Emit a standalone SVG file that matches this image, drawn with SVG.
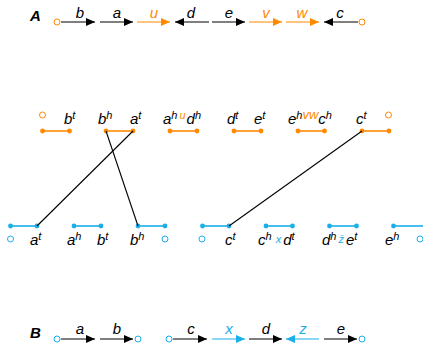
<svg xmlns="http://www.w3.org/2000/svg" width="423" height="344" viewBox="0 0 423 344">
<style>
text{font-family:"Liberation Sans",Arial,sans-serif;font-style:italic;font-size:15px;fill:#000}
.big{font-weight:bold;font-size:15px}
.sup{font-size:11px}
.o{fill:#ff8a00}
.bl{fill:#1aaeea}
.sm{font-size:11px}
.md{font-size:13px}
.ab{stroke:#000;stroke-width:1.2;fill:none}
.ao{stroke:#ff8a00;stroke-width:1.2;fill:none}
.ablue{stroke:#1aaeea;stroke-width:1.2;fill:none}
.so{stroke:#ff8a00;stroke-width:1.6}
.sb{stroke:#1aaeea;stroke-width:1.6}
.co{fill:none;stroke:#ff8a00;stroke-width:1}
.cb{fill:none;stroke:#1aaeea;stroke-width:1}
.do{fill:#ff8a00}
.db{fill:#1aaeea}
.conn{stroke:#000;stroke-width:1.1;fill:none}
</style>
<defs>
<marker id="mk" markerUnits="userSpaceOnUse" markerWidth="10" markerHeight="8" refX="9" refY="4" orient="auto"><path d="M0,0 L9,4 L0,8 Z" fill="#000"/></marker>
<marker id="mo" markerUnits="userSpaceOnUse" markerWidth="10" markerHeight="8" refX="9" refY="4" orient="auto"><path d="M0,0 L9,4 L0,8 Z" fill="#ff8a00"/></marker>
<marker id="mb" markerUnits="userSpaceOnUse" markerWidth="10" markerHeight="8" refX="9" refY="4" orient="auto"><path d="M0,0 L9,4 L0,8 Z" fill="#1aaeea"/></marker>
</defs>

<g id="rowA">
<text class="big" x="30" y="21">A</text>
<circle class="co" cx="57" cy="22" r="3"/>
<line class="ab" x1="61" y1="22" x2="95" y2="22" marker-end="url(#mk)"/>
<line class="ab" x1="100" y1="22" x2="133" y2="22" marker-end="url(#mk)"/>
<line class="ao" x1="137" y1="22" x2="170" y2="22" marker-end="url(#mo)"/>
<line class="ab" x1="209" y1="22" x2="175" y2="22" marker-end="url(#mk)"/>
<line class="ab" x1="212" y1="22" x2="245" y2="22" marker-end="url(#mk)"/>
<line class="ao" x1="249" y1="22" x2="282" y2="22" marker-end="url(#mo)"/>
<line class="ao" x1="286" y1="22" x2="319" y2="22" marker-end="url(#mo)"/>
<line class="ab" x1="358" y1="22" x2="324" y2="22" marker-end="url(#mk)"/>
<circle class="co" cx="362" cy="22" r="3"/>
<text x="80" y="18" text-anchor="middle">b</text>
<text x="117" y="18" text-anchor="middle">a</text>
<text class="o" x="154" y="18" text-anchor="middle">u</text>
<text x="191" y="18" text-anchor="middle">d</text>
<text x="229" y="18" text-anchor="middle">e</text>
<text class="o" x="266" y="18" text-anchor="middle">v</text>
<text class="o" x="302" y="18" text-anchor="middle">w</text>
<text x="340" y="18" text-anchor="middle">c</text>
</g>

<g id="rowMid">
<circle class="co" cx="42.5" cy="115" r="3"/>
<circle class="co" cx="388.5" cy="115" r="3"/>
<line class="so" x1="42.5" y1="131" x2="69.5" y2="131"/><circle class="do" cx="42.5" cy="131" r="2.4"/><circle class="do" cx="69.5" cy="131" r="2.4"/>
<line class="so" x1="106" y1="131" x2="133" y2="131"/><circle class="do" cx="106" cy="131" r="2.4"/><circle class="do" cx="133" cy="131" r="2.4"/>
<line class="so" x1="170" y1="131" x2="197" y2="131"/><circle class="do" cx="170" cy="131" r="2.4"/><circle class="do" cx="197" cy="131" r="2.4"/>
<line class="so" x1="234" y1="131" x2="261" y2="131"/><circle class="do" cx="234" cy="131" r="2.4"/><circle class="do" cx="261" cy="131" r="2.4"/>
<line class="so" x1="298" y1="131" x2="324.5" y2="131"/><circle class="do" cx="298" cy="131" r="2.4"/><circle class="do" cx="324.5" cy="131" r="2.4"/>
<line class="so" x1="362" y1="131" x2="389" y2="131"/><circle class="do" cx="362" cy="131" r="2.4"/><circle class="do" cx="389" cy="131" r="2.4"/>
<text x="64" y="124">b<tspan class="sup" dy="-5">t</tspan></text>
<text x="98" y="124">b<tspan class="sup" dy="-5">h</tspan></text>
<text x="130" y="124">a<tspan class="sup" dy="-5">t</tspan></text>
<text x="163" y="124">a<tspan class="sup" dy="-5">h</tspan><tspan class="o sm" dx="2">u</tspan><tspan dx="1" dy="5">d</tspan><tspan class="sup" dy="-5">h</tspan></text>
<text x="227" y="124">d<tspan class="sup" dy="-5">t</tspan></text>
<text x="254" y="124">e<tspan class="sup" dy="-5">t</tspan></text>
<text x="288" y="124">e<tspan class="sup" dy="-5">h</tspan><tspan class="o md">vw</tspan><tspan dy="5">c</tspan><tspan class="sup" dy="-5">h</tspan></text>
<text x="356" y="124">c<tspan class="sup" dy="-5">t</tspan></text>
</g>

<g id="rowLow">
<line class="sb" x1="10.5" y1="226" x2="37" y2="226"/><circle class="db" cx="10.5" cy="226" r="2.4"/><circle class="db" cx="37" cy="226" r="2.4"/>
<line class="sb" x1="74" y1="226" x2="101" y2="226"/><circle class="db" cx="74" cy="226" r="2.4"/><circle class="db" cx="101" cy="226" r="2.4"/>
<line class="sb" x1="138" y1="226" x2="165" y2="226"/><circle class="db" cx="138" cy="226" r="2.4"/><circle class="db" cx="165" cy="226" r="2.4"/>
<line class="sb" x1="202.5" y1="226" x2="229" y2="226"/><circle class="db" cx="202.5" cy="226" r="2.4"/><circle class="db" cx="229" cy="226" r="2.4"/>
<line class="sb" x1="266" y1="226" x2="292.5" y2="226"/><circle class="db" cx="266" cy="226" r="2.4"/><circle class="db" cx="292.5" cy="226" r="2.4"/>
<line class="sb" x1="329.5" y1="226" x2="356.5" y2="226"/><circle class="db" cx="329.5" cy="226" r="2.4"/><circle class="db" cx="356.5" cy="226" r="2.4"/>
<line class="sb" x1="393.5" y1="226" x2="423" y2="226"/><circle class="db" cx="393.5" cy="226" r="2.4"/>
<circle class="cb" cx="10.5" cy="239" r="3"/>
<circle class="cb" cx="165" cy="239" r="3"/>
<circle class="cb" cx="202" cy="239" r="3"/>
<circle class="cb" cx="420" cy="239" r="3"/>
<text x="30" y="245">a<tspan class="sup" dy="-5">t</tspan></text>
<text x="67" y="245">a<tspan class="sup" dy="-5">h</tspan></text>
<text x="97" y="245">b<tspan class="sup" dy="-5">t</tspan></text>
<text x="130" y="245">b<tspan class="sup" dy="-5">h</tspan></text>
<text x="225" y="245">c<tspan class="sup" dy="-5">t</tspan></text>
<text x="258" y="245">c<tspan class="sup" dy="-5">h</tspan><tspan class="bl sm" dx="4" dy="3">x</tspan><tspan dx="2" dy="2">d</tspan><tspan class="sup" dy="-5">t</tspan></text>
<text x="322" y="245">d<tspan class="sup" dy="-5">h</tspan><tspan class="bl sm" dx="2" dy="3">z̄</tspan><tspan dx="2" dy="2">e</tspan><tspan class="sup" dy="-5">t</tspan></text>
<text x="385" y="245">e<tspan class="sup" dy="-5">h</tspan></text>
</g>

<g id="connectors">
<line class="conn" x1="133" y1="131" x2="37" y2="226"/>
<line class="conn" x1="106" y1="131" x2="138" y2="226"/>
<line class="conn" x1="362" y1="131" x2="229" y2="226"/>
</g>

<g id="rowB">
<text class="big" x="30" y="338">B</text>
<circle class="cb" cx="57" cy="339" r="3"/>
<line class="ab" x1="61" y1="339" x2="95" y2="339" marker-end="url(#mk)"/>
<line class="ab" x1="100" y1="339" x2="133" y2="339" marker-end="url(#mk)"/>
<circle class="cb" cx="138" cy="339" r="3"/>
<circle class="cb" cx="169" cy="339" r="3"/>
<line class="ab" x1="173" y1="339" x2="207" y2="339" marker-end="url(#mk)"/>
<line class="ablue" x1="212" y1="339" x2="245" y2="339" marker-end="url(#mb)"/>
<line class="ab" x1="249" y1="339" x2="282" y2="339" marker-end="url(#mk)"/>
<line class="ablue" x1="319" y1="339" x2="286" y2="339" marker-end="url(#mb)"/>
<line class="ab" x1="324" y1="339" x2="357" y2="339" marker-end="url(#mk)"/>
<circle class="cb" cx="362" cy="339" r="3"/>
<text x="80" y="334" text-anchor="middle">a</text>
<text x="117" y="334" text-anchor="middle">b</text>
<text x="191" y="334" text-anchor="middle">c</text>
<text class="bl" x="229" y="334" text-anchor="middle">x</text>
<text x="266" y="334" text-anchor="middle">d</text>
<text class="bl" x="303" y="334" text-anchor="middle">z</text>
<text x="341" y="334" text-anchor="middle">e</text>
</g>
</svg>
